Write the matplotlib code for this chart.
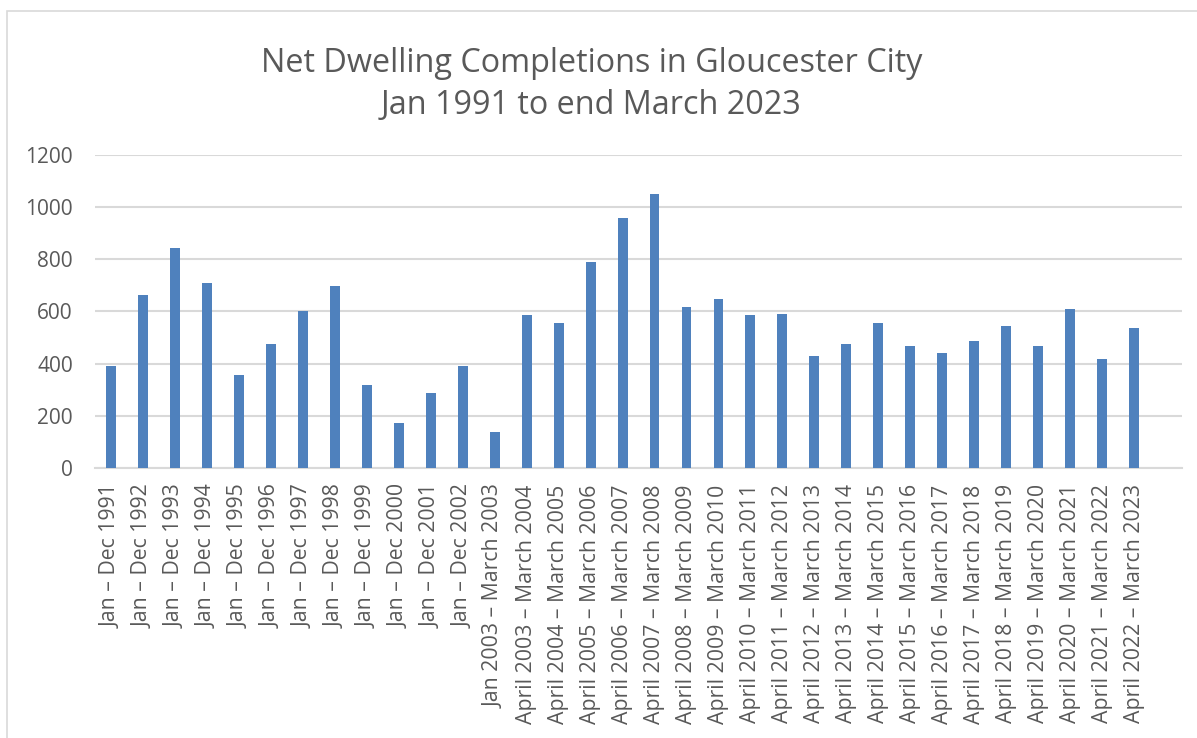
import matplotlib
matplotlib.use("Agg")
import matplotlib.pyplot as plt
from matplotlib.patches import Rectangle

# data
periods = [f"Jan \u2013 Dec {y}" for y in range(1991, 2003)] + \
          ["Jan 2003 \u2013 March 2003"] + \
          [f"April {y} \u2013 March {y + 1}" for y in range(2003, 2023)]
completions = [390, 665, 844, 710, 357, 476, 601, 699, 318, 171, 288, 390,
               138, 587, 555, 790, 960, 1052, 619, 647, 587, 591, 429, 475,
               555, 468, 440, 486, 544, 466, 609, 419, 536]
yticks = [0, 200, 400, 600, 800, 1000, 1200]

grey = "#595959"
plt.rcParams['font.family'] = ['Open Sans', 'DejaVu Sans']

fig = plt.figure(figsize=(11.97, 7.38), dpi=100, facecolor='white')
ax = fig.add_axes([0.0794, 0.3663, 0.9081, 0.4233])

x = list(range(len(periods)))
ax.bar(x, completions, width=0.31, color='#4f81bd', zorder=3)

ax.set_ylim(0, 1200)
ax.set_xlim(-0.5, len(periods) + 0.5)
ax.set_yticks(yticks)
ax.set_yticklabels([str(v) for v in yticks], fontsize=15, color=grey)
ax.set_xticks(x)
ax.set_xticklabels(periods, rotation=90, fontsize=15.3, color=grey, va='top', ha='center')
ax.tick_params(axis='both', length=0)
ax.tick_params(axis='y', pad=16)
ax.tick_params(axis='x', pad=12)
ax.yaxis.grid(True, color='#d9d9d9', linewidth=1.5, zorder=0)
for s in ['left', 'right', 'top']:
    ax.spines[s].set_visible(False)
ax.spines['bottom'].set_color('#d9d9d9')
ax.spines['bottom'].set_linewidth(1.5)

fig.text(0.494, 1 - 63 / 738, "Net Dwelling Completions in Gloucester City",
         ha='center', va='center', fontsize=23.3, color=grey)
fig.text(0.494, 1 - 106 / 738, "Jan 1991 to end March 2023",
         ha='center', va='center', fontsize=23.3, color=grey)

# chart frame
fig.add_artist(Rectangle((7 / 1197, -0.1), 1.2, (738 - 11) / 738 + 0.1,
                         transform=fig.transFigure, fill=False,
                         edgecolor='#d9d9d9', linewidth=1.2))

fig.savefig("out.png", dpi=100, facecolor='white')
